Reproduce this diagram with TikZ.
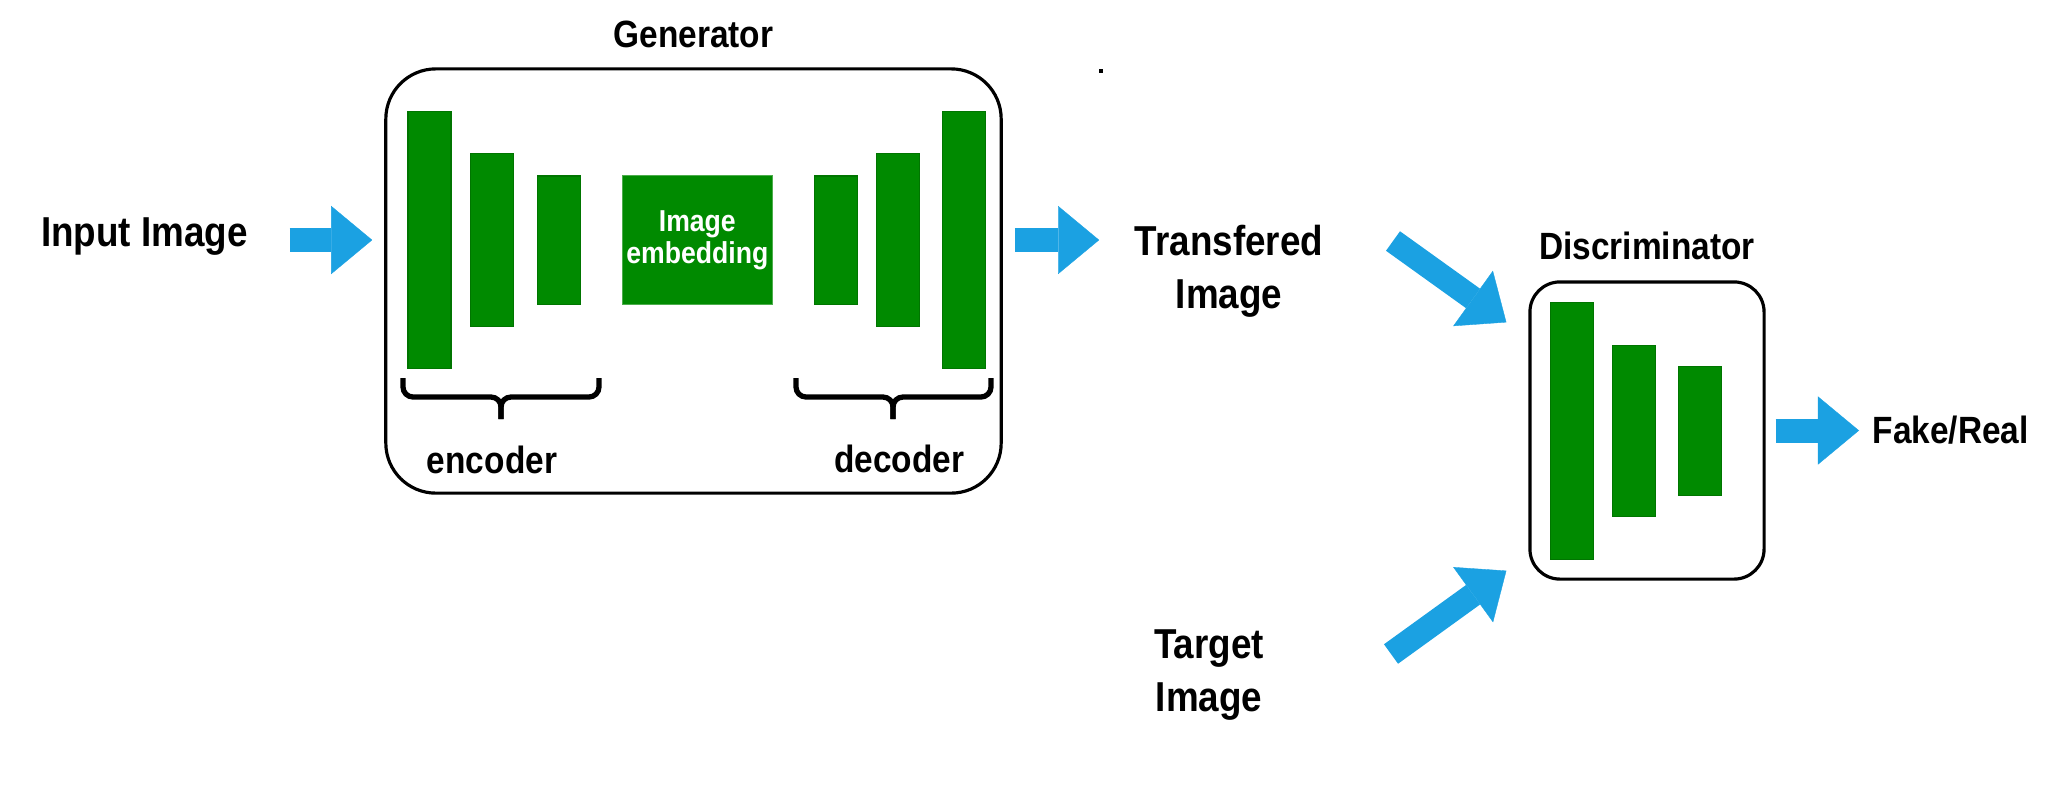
\documentclass[tikz,border=0pt]{standalone}
\usepackage{fontspec}
\setmainfont{Liberation Sans}[FakeStretch=0.88]
\usetikzlibrary{arrows.meta, positioning, calc}
\definecolor{arrowblue}{HTML}{1BA1E2}
\definecolor{convgreen}{HTML}{008A00}

\begin{document}
\begin{tikzpicture}[
    x=0.01cm, y=-0.01cm,
    lbl/.style={font=\bfseries\fontsize{11.9}{15}\selectfont, inner sep=0pt, align=center},
    title/.style={font=\bfseries\fontsize{10.8}{13}\selectfont, inner sep=0pt},
    netbox/.style={draw, line width=0.9pt, inner sep=0pt},
    convbar/.style={fill=convgreen, draw=convgreen!85!black, line width=0.3pt, minimum width=0.43cm, inner sep=0pt},
    embed/.style={fill=convgreen, draw=convgreen!70!white, line width=0.3pt, minimum width=1.5cm, minimum height=1.29cm,
        inner sep=0pt, text=white, align=center, font=\bfseries\fontsize{8.6}{8}\selectfont},
    blockarr/.style={draw=arrowblue, line width=0.24cm, -{Triangle[length=0.41cm, width=0.68cm, line width=0.1pt]}},
    brace/.style={line width=1.5pt, rounded corners=0.1cm}
]
\useasboundingbox (0,0) rectangle (2048,808);
% ----- Generator -----
\node[netbox, rounded corners=0.5cm, minimum width=6.15cm, minimum height=4.24cm] (gen) at (693.5,281) {};
\node[title, above=0.19cm of gen] (gentitle) {Generator};
\node[convbar, minimum height=2.56cm] (e1) at (429.5,240) {};
\node[convbar, minimum height=1.72cm, right=0.18cm of e1] (e2) {};
\node[convbar, minimum height=1.28cm, right=0.23cm of e2] (e3) {};
\node[embed, right=0.41cm of e3] (emb) {Image\\embedding};
\node[convbar, minimum height=1.28cm, right=0.41cm of emb] (d3) {};
\node[convbar, minimum height=1.72cm, right=0.18cm of d3] (d2) {};
\node[convbar, minimum height=2.56cm, right=0.22cm of d2] (d1) {};
% braces under encoder / decoder
\draw[brace] (403,378) |- (501,397) -- (501,419);
\draw[brace] (599,378) |- (501,397) -- (501,419);
\draw[brace] (796,378) |- (893,397) -- (893,419);
\draw[brace] (991,378) |- (893,397) -- (893,419);
\node[title, anchor=base] (enclbl) at (492,473) {encoder};
\node[title, anchor=base] (declbl) at (899,472) {decoder};
\fill (1099,69) rectangle (1103,73);
% ----- Discriminator -----
\node[netbox, rounded corners=0.3cm, minimum width=2.34cm, minimum height=2.97cm] (disc) at (1647,430.5) {};
\node[title, above=0.2cm of disc] (disctitle) {Discriminator};
\node[convbar, minimum height=2.56cm] (b1) at (1572,431) {};
\node[convbar, minimum height=1.71cm, right=0.18cm of b1] (b2) {};
\node[convbar, minimum height=1.29cm, right=0.22cm of b2] (b3) {};
% ----- images and output -----
\node[lbl, anchor=base] (input) at (144.5,246) {Input Image};
\node[lbl, anchor=base] (trans) at (1229,308) {Transfered\\Image};
\node[lbl, anchor=base] (target) at (1209,711) {Target\\Image};
\node[title, anchor=base west] (fake) at (1872,443) {Fake/Real};
\coordinate (trans-out) at (1393,241);
\coordinate (target-out) at (1391,654);
% arrows
\draw[blockarr] ($(input.east |- e1)+(41,0)$) -- ($(gen.west |- e1)+(-12,0)$);
\draw[blockarr] ($(gen.east |- d1)+(12,0)$) -- ($(trans.west |- d1)+(-35,0)$);
\draw[blockarr] (trans-out) -- ($(disc.north west)+(-22,42)$);
\draw[blockarr] (target-out) -- ($(disc.south west)+(-22,-10)$);
\draw[blockarr] ($(disc.east)+(10,0)$) -- ($(fake.west |- disc.east)+(-13,0)$);
\end{tikzpicture}
\end{document}
